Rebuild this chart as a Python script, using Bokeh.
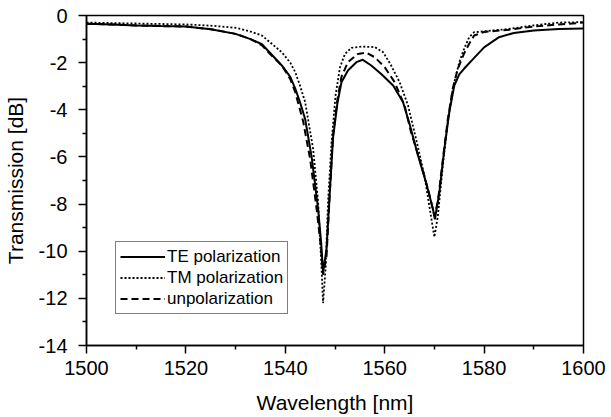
from bokeh.plotting import figure
from bokeh.models import Legend, LegendItem, FixedTicker, Range1d, PrintfTickFormatter
from bokeh.embed import file_html
from bokeh.resources import INLINE

# ---- data ----
te_wl = [1500, 1505, 1510, 1515, 1520, 1525, 1530, 1533, 1535.3, 1537, 1539.3, 1541, 1542, 1543, 1544,
         1545.3, 1546.6, 1547.2, 1547.6, 1548.3, 1549.0, 1549.6, 1550.5, 1551.3, 1552.6, 1554.3,
         1555.6, 1557.3, 1559.3, 1561.7, 1563.7, 1565.0, 1566.7, 1568.3, 1569.7, 1570.1, 1571.0,
         1572.0, 1573.0, 1574.0, 1575.0, 1576.0, 1578.0, 1580.0, 1583.0, 1586.0, 1590.0, 1595.0, 1600.0]
te_db = [-0.35, -0.38, -0.42, -0.45, -0.47, -0.58, -0.78, -1.0, -1.22, -1.6, -2.12, -2.6, -3.1, -3.7, -4.4,
         -6.0, -8.2, -9.6, -10.9, -9.9, -7.35, -5.2, -3.7, -2.83, -2.33, -1.98,
         -1.88, -2.12, -2.48, -2.97, -3.68, -4.6, -5.94, -7.07, -8.2, -8.65, -7.5,
         -5.66, -4.1, -2.97, -2.5, -2.25, -1.8, -1.35, -0.92, -0.74, -0.64, -0.57, -0.55]

tm_wl = [1500, 1505, 1510, 1515, 1520, 1525, 1530, 1533, 1535.3, 1537, 1539.3, 1541, 1542, 1543, 1544,
         1545.6, 1546.6, 1547.3, 1547.6, 1548.1, 1548.6, 1549.3, 1550.1, 1551.0, 1552.0, 1553.3,
         1555.3, 1558.0, 1559.7, 1561.3, 1563.0, 1564.7, 1566.3, 1568.0, 1569.3, 1570.0, 1570.7,
         1571.7, 1572.7, 1573.7, 1575.0, 1576.0, 1577.0, 1578.0, 1580.0, 1585.0, 1590.0, 1595.0, 1600.0]
tm_db = [-0.3, -0.32, -0.34, -0.36, -0.38, -0.43, -0.52, -0.68, -0.85, -1.15, -1.56, -2.0, -2.4, -3.0, -3.68,
         -5.66, -7.9, -10.75, -12.2, -10.75, -7.9, -5.4, -3.4, -2.2, -1.63, -1.37,
         -1.32, -1.34, -1.56, -2.12, -2.83, -3.82, -5.23, -6.8, -8.5, -9.4, -8.5,
         -6.36, -4.5, -3.1, -1.98, -1.4, -0.92, -0.71, -0.67, -0.57, -0.42, -0.3, -0.28]

un_wl = [1500, 1505, 1510, 1515, 1520, 1525, 1530, 1533, 1535.3, 1537, 1539.3, 1541, 1542, 1543.6,
         1545.0, 1546.3, 1547.2, 1547.6, 1548.3, 1549.0, 1549.6, 1550.5, 1551.3, 1552.6, 1554.6,
         1556.3, 1558.0, 1560.0, 1562.0, 1564.0, 1565.3, 1567.0, 1568.7, 1570.0, 1570.7,
         1571.7, 1572.7, 1573.7, 1574.7, 1576.0, 1577.0, 1578.0, 1580.0, 1585.0, 1590.0, 1595.0, 1600.0]
un_db = [-0.35, -0.38, -0.42, -0.45, -0.47, -0.58, -0.78, -1.0, -1.27, -1.65, -2.12, -2.7, -3.25, -4.5,
         -6.1, -8.2, -9.9, -11.0, -10.2, -7.35, -5.1, -3.54, -2.6, -1.98, -1.63,
         -1.58, -1.77, -2.19, -2.83, -3.82, -4.95, -6.1, -7.35, -8.5, -7.9,
         -6.1, -4.4, -3.1, -2.26, -1.6, -1.2, -0.85, -0.7, -0.6, -0.47, -0.38, -0.3]

x_ticks = [1500, 1520, 1540, 1560, 1580, 1600]
y_ticks = [0, -2, -4, -6, -8, -10, -12, -14]
labels = ["TE polarization", "TM polarization", "unpolarization"]

FONT = "Liberation Sans"

p = figure(width=611, height=417, output_backend="svg", toolbar_location=None,
           x_range=Range1d(1500, 1600), y_range=Range1d(-14, 0),
           min_border_left=84, min_border_right=28, min_border_top=15, min_border_bottom=72)
p.xgrid.visible = False
p.ygrid.visible = False
p.outline_line_color = "black"
p.outline_line_width = 1.5
p.background_fill_color = "white"
p.border_fill_color = "white"

r_te = p.line(te_wl, te_db, line_color="black", line_width=2)
r_tm = p.line(tm_wl, tm_db, line_color="black", line_width=1.8, line_dash="2 2")
r_un = p.line(un_wl, un_db, line_color="black", line_width=2, line_dash="7 4")

for ax in (p.xaxis[0], p.yaxis[0]):
    ax.axis_line_color = "black"
    ax.axis_line_width = 1.5
    ax.major_tick_line_color = "black"
    ax.major_tick_line_width = 1.5
    ax.minor_tick_line_color = "black"
    ax.minor_tick_line_width = 1.5
    ax.major_tick_in = 0
    ax.major_tick_out = 8
    ax.minor_tick_in = 0
    ax.minor_tick_out = 4
    ax.major_label_text_font = FONT
    ax.major_label_text_font_size = "20px"
    ax.major_label_text_color = "black"
    ax.axis_label_text_font = FONT
    ax.axis_label_text_font_size = "21px"
    ax.axis_label_text_font_style = "normal"
    ax.axis_label_text_color = "black"
    ax.formatter = PrintfTickFormatter(format="%d")

p.xaxis.ticker = FixedTicker(ticks=x_ticks, minor_ticks=[1510, 1530, 1550, 1570, 1590])
p.yaxis.ticker = FixedTicker(ticks=y_ticks, minor_ticks=[-1, -3, -5, -7, -9, -11, -13])
p.xaxis.axis_label = "Wavelength [nm]"
p.yaxis.axis_label = "Transmission [dB]"
p.xaxis.major_label_standoff = 7
p.xaxis.axis_label_standoff = 13
p.yaxis.major_label_standoff = 11
p.yaxis.axis_label_standoff = 9

legend = Legend(items=[LegendItem(label=labels[0], renderers=[r_te]),
                       LegendItem(label=labels[1], renderers=[r_tm]),
                       LegendItem(label=labels[2], renderers=[r_un])],
                location=(29, 31), padding=4, spacing=0, margin=0,
                glyph_width=45, glyph_height=21, label_height=21, label_standoff=2,
                label_text_font=FONT, label_text_font_size="17px", label_text_color="black",
                border_line_color="black", border_line_width=1.5,
                background_fill_color="white", background_fill_alpha=1.0)
p.add_layout(legend)

open("out.html", "w").write(file_html(p, INLINE))
